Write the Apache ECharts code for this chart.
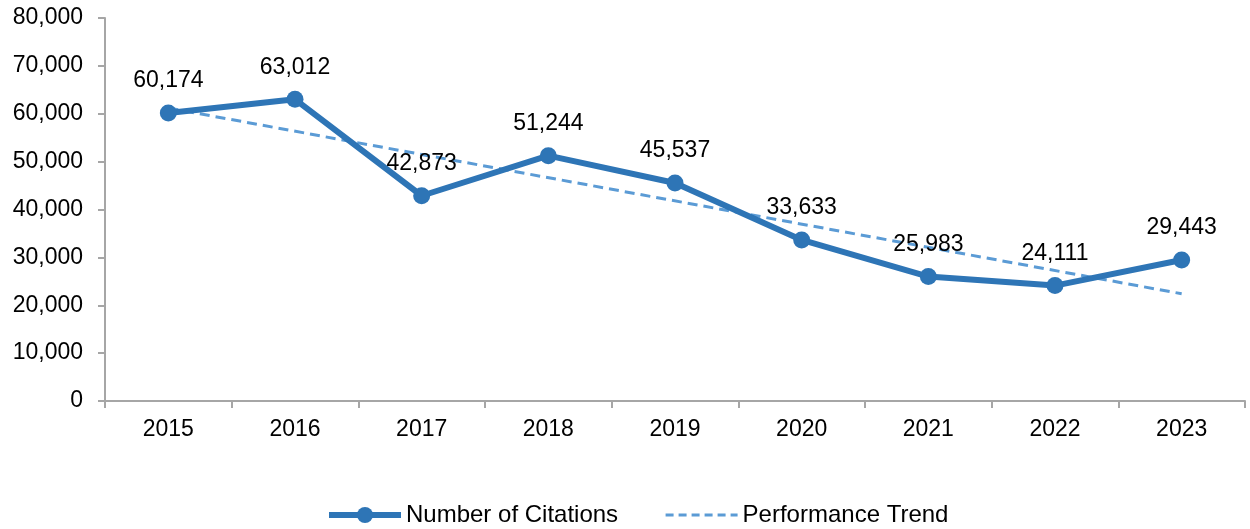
<!DOCTYPE html>
<html><head><meta charset="utf-8">
<script src="https://cdn.jsdelivr.net/npm/echarts@6/dist/echarts.min.js"></script>
<style>html,body{margin:0;padding:0;background:#fff}#c{width:1250px;height:529px}</style>
</head><body><div id="c"></div>
<script>
const years = ['2015','2016','2017','2018','2019','2020','2021','2022','2023'];
const citations = [60174, 63012, 42873, 51244, 45537, 33633, 25983, 24111, 29443];
// trend line endpoints
const trend = [61200, null, null, null, null, null, null, null, 22400];
const yTicks = {min: 0, max: 80000, interval: 10000};

const font = '"Liberation Sans", Arial, sans-serif';
const chart = echarts.init(document.getElementById('c'), null, {renderer: 'canvas'});
chart.setOption({
  animation: false,
  grid: {left: 105, right: 5, top: 18, bottom: 128, containLabel: false},
  xAxis: {
    type: 'category', data: years, boundaryGap: true,
    axisLine: {lineStyle: {color: '#A6A6A6', width: 2}},
    axisTick: {show: true, length: 7, lineStyle: {color: '#A6A6A6', width: 2}},
    axisLabel: {color: '#000', fontSize: 23, fontFamily: font, margin: 17}
  },
  yAxis: {
    type: 'value', min: yTicks.min, max: yTicks.max, interval: yTicks.interval,
    axisLine: {show: true, lineStyle: {color: '#A6A6A6', width: 2}},
    axisTick: {show: true, length: 7, lineStyle: {color: '#A6A6A6', width: 2}},
    splitLine: {show: false},
    axisLabel: {color: '#000', fontSize: 23, fontFamily: font, margin: 22,
      formatter: v => v.toLocaleString('en-US')}
  },
  legend: {
    top: 503, left: 326, padding: 0, itemWidth: 72, itemHeight: 20, itemGap: 46,
    textStyle: {color: '#000', fontSize: 24, fontFamily: font, padding: [0,0,0,0]},
    data: [
      {name: 'Number of Citations', lineStyle: {width: 6, color: '#2E75B6'}, itemStyle: {color: '#2E75B6'}},
      {name: 'Performance Trend', itemStyle: {opacity: 0}, lineStyle: {width: 3, color: '#5B9BD5', type: [8, 5], opacity: 1}}
    ]
  },
  series: [
    {
      name: 'Number of Citations', type: 'line', data: citations, z: 3,
      symbol: 'circle', symbolSize: 17,
      lineStyle: {color: '#2E75B6', width: 6},
      itemStyle: {color: '#2E75B6'},
      label: {show: true, position: 'top', distance: 12, color: '#000', fontSize: 23, fontFamily: font,
        formatter: p => p.value.toLocaleString('en-US')}
    },
    {
      name: 'Performance Trend', type: 'line', data: trend, connectNulls: true, z: 2,
      symbol: 'none', showSymbol: false,
      lineStyle: {color: '#5B9BD5', width: 3, type: [10, 6]},
      itemStyle: {color: '#5B9BD5'}
    }
  ]
});
</script></body></html>
